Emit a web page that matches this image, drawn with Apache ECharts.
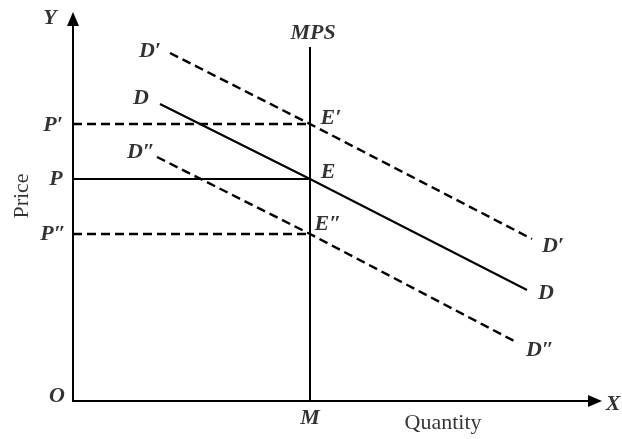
<!DOCTYPE html>
<html>
<head>
<meta charset="utf-8">
<script src="https://cdn.jsdelivr.net/npm/echarts@6/dist/echarts.min.js"></script>
<style>
  html, body { margin: 0; padding: 0; background: #fff; }
  #chart { width: 622px; height: 439px; }
</style>
</head>
<body>
<div id="chart"></div>
<script>
// quantity on x, price on y (arbitrary units)
const xMax = 522;
const yMax = 382;
const qM = 237;
const priceLevels = { high: 277, mid: 222, low: 167 };
const mpsTop = 354;

const demandD = [[87, 297], [237, 222], [454, 111]];
const demandHigh = [[97, 348], [237, 277], [459, 162]];
const demandLow = [[84, 244], [237, 167], [445, 58]];

// [x, y, text]
const letterLabels = [
  [-23, 383, 'Y'],
  [540, -3, 'X'],
  [-16, 5, 'O'],
  [240, 368, 'MPS'],
  [77, 350, 'D′'],
  [68, 303, 'D'],
  [68, 249, 'D″'],
  [-20, 276, 'P′'],
  [-17, 222, 'P'],
  [-20, 167, 'P″'],
  [258, 283, 'E′'],
  [255, 229, 'E'],
  [255, 177, 'E″'],
  [480, 155, 'D′'],
  [473, 108, 'D'],
  [467, 51, 'D″'],
  [237, -17, 'M']
];
const axisTitles = [
  [370, -22, 'Quantity', 0],
  [-51, 205, 'Price', 90]
];

const chart = echarts.init(document.getElementById('chart'));

const lineStyle = (dashed) => ({
  color: '#000',
  width: dashed ? 2.4 : 2,
  type: dashed ? [9, 5] : 'solid'
});

function lineSeries(data, dashed) {
  return {
    type: 'line',
    data: data,
    symbol: 'none',
    silent: true,
    lineStyle: lineStyle(dashed)
  };
}

const axisCommon = {
  type: 'value',
  axisLabel: { show: false },
  axisTick: { show: false },
  splitLine: { show: false },
  axisLine: {
    show: true,
    symbol: ['none', 'triangle'],
    symbolSize: [12, 14],
    lineStyle: { color: '#000', width: 2 }
  }
};

const option = {
  backgroundColor: '#fff',
  animation: false,
  grid: { left: 73, right: 27, top: 19, bottom: 38 },
  xAxis: Object.assign({}, axisCommon, { min: 0, max: xMax }),
  yAxis: Object.assign({}, axisCommon, { min: 0, max: yMax }),
  series: [
    lineSeries([[0, priceLevels.high], [qM, priceLevels.high]], true),
    lineSeries([[0, priceLevels.mid], [qM, priceLevels.mid]], false),
    lineSeries([[0, priceLevels.low], [qM, priceLevels.low]], true),
    lineSeries([[qM, 0], [qM, mpsTop]], false),
    lineSeries(demandHigh, true),
    lineSeries(demandD, false),
    lineSeries(demandLow, true),
    {
      type: 'scatter',
      symbolSize: 0,
      clip: false,
      silent: true,
      data: letterLabels.map(d => ({ value: [d[0], d[1]], name: d[2] })),
      label: {
        show: true,
        position: 'inside',
        formatter: p => p.name,
        color: '#000',
        fontFamily: 'Liberation Serif, DejaVu Serif, serif',
        fontStyle: 'italic',
        fontWeight: 'bold',
        fontSize: 22
      }
    },
    {
      type: 'scatter',
      symbolSize: 0,
      clip: false,
      silent: true,
      data: axisTitles.map(d => ({
        value: [d[0], d[1]],
        name: d[2],
        label: { rotate: d[3] }
      })),
      label: {
        show: true,
        position: 'inside',
        formatter: p => p.name,
        color: '#000',
        fontFamily: 'Liberation Serif, DejaVu Serif, serif',
        fontSize: 22
      }
    }
  ]
};

chart.setOption(option);
</script>
</body>
</html>
